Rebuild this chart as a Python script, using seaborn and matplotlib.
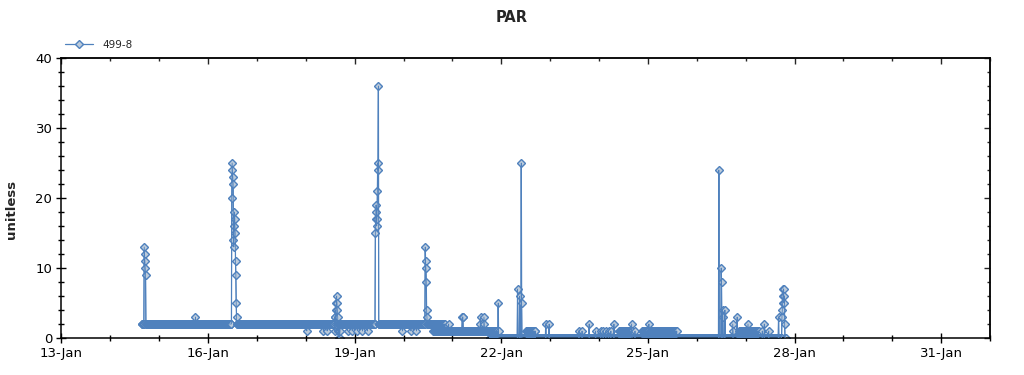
import numpy as np
import pandas as pd
import matplotlib
matplotlib.use("Agg")
import matplotlib.pyplot as plt
import matplotlib.dates as mdates
from matplotlib.ticker import MultipleLocator, NullFormatter
import seaborn as sns

# readings are logged every 10 minutes; hours counted from 13-Jan 00:00
t0 = pd.Timestamp("2014-01-13")
step_min = 10
start_h = 39.5
end_h = 355.6

# baseline runs: start hour and the level(s) the logger sits on
run_start_h = [39.5, 182.2, 188.5, 210.1, 214.0, 228.3, 232.7, 273.8, 280.3, 285.1, 302.4, 332.6, 342.4]
run_levels = [(2,), (2, 1), (1,), (1, 0), (0,), (1, 0), (0,), (1, 0), (0,), (1, 0), (0,), (1, 0), (0,)]

# excursions off the baseline: start hour and consecutive readings
event_h = [40.6, 65.8, 83.6, 120.5, 128.7, 130.5, 134.1, 140.5, 142.9, 145.4,
           147.9, 150.3, 154.2, 167.5, 171.7, 174.3, 178.6, 190.1, 196.8, 205.7,
           207.5, 214.5, 224.0, 225.0, 225.9, 237.9, 239.5, 254.2, 255.7, 259.1,
           262.4, 264.9, 266.0, 267.3, 268.6, 269.9, 271.4, 280.0, 281.7, 288.5,
           322.8, 324.0, 324.7, 325.8, 329.7, 331.8, 337.2, 344.1, 345.2, 347.3,
           352.2, 353.8]
event_vals = [[13, 12, 11, 10, 9], [3],
              [20, 25, 24, 23, 22, 14, 13, 16, 18, 17, 15, 11, 9, 5, 3],
              [1], [1], [1],
              [3, 1, 3, 4, 2, 5, 6, 5, 4, 3, 2, 1, 0, 1, 2, 0, 1],
              [1], [1], [1], [1], [1],
              [15, 17, 19, 18, 16, 17, 21, 25, 24, 36],
              [1], [1], [1],
              [13, 11, 10, 8, 4, 3],
              [2], [3, 3, 3], [2, 3], [3, 2], [5, 1],
              [7], [6], [25, 5], [2], [2], [1], [1], [2],
              [1], [1], [1], [1], [1], [1], [2], [2], [1], [2],
              [24], [10, 8], [4, 3], [4], [2, 1], [3], [2], [1], [2], [1],
              [3], [3, 4, 5, 6, 7, 7, 5, 6, 2]]

series_name = "499-8"
line_color = "#4f81bd"
fill_color = "#bccbdb"

# build the logged series
n = int(round((end_h - start_h) * 60 / step_min)) + 1
hours = start_h + np.arange(n) * step_min / 60
values = np.zeros(n)
for i, (h, pat) in enumerate(zip(run_start_h, run_levels)):
    stop = run_start_h[i + 1] if i + 1 < len(run_start_h) else end_h + 1
    idx = np.where((hours >= h - 1e-9) & (hours < stop - 1e-9))[0]
    values[idx] = np.resize(pat, len(idx))
for h, vals in zip(event_h, event_vals):
    k = int(round((h - start_h) * 60 / step_min))
    values[k:k + len(vals)] = vals

df = pd.DataFrame({"time": t0 + pd.to_timedelta(hours, unit="h"), "value": values})

sns.set_style("white")
plt.rcParams["font.family"] = ["DejaVu Sans"]

fig = plt.figure(figsize=(10.24, 3.75), dpi=100)
ax = fig.add_axes([61.4 / 1024, 1 - 338 / 375, (990 - 61.4) / 1024, 280 / 375])

sns.lineplot(data=df, x="time", y="value", ax=ax, estimator=None, sort=False,
             color=line_color, linewidth=0.9, marker="D", markersize=3.7,
             markerfacecolor=fill_color, markeredgecolor=line_color,
             markeredgewidth=1.0, label=series_name)
# hairline trace over the markers so the dense runs read as a solid band
sns.lineplot(data=df, x="time", y="value", ax=ax, estimator=None, sort=False,
             color=line_color, linewidth=0.6, legend=False, zorder=3)

ax.set_xlim(t0, pd.Timestamp("2014-02-01"))
ax.set_ylim(0, 40)
ax.xaxis.set_major_locator(mdates.DayLocator(bymonthday=[13, 16, 19, 22, 25, 28, 31]))
ax.xaxis.set_minor_locator(mdates.DayLocator())
ax.xaxis.set_major_formatter(mdates.DateFormatter("%d-%b"))
ax.yaxis.set_major_locator(MultipleLocator(10))
ax.yaxis.set_minor_locator(MultipleLocator(2))

for s in ax.spines.values():
    s.set_color("black")
    s.set_linewidth(1.1)

ax.tick_params(which="major", direction="inout", length=7, width=1, colors="black",
               labelsize=9.5, pad=3)
ax.tick_params(which="minor", direction="inout", length=4, width=1, colors="black")
ax.tick_params(bottom=True, left=True, which="both")

# inward ticks on the top and right edges
top = ax.secondary_xaxis("top")
top.xaxis.set_major_locator(mdates.DayLocator(bymonthday=[13, 16, 19, 22, 25, 28, 31]))
top.xaxis.set_minor_locator(mdates.DayLocator())
top.xaxis.set_major_formatter(NullFormatter())
top.tick_params(which="major", direction="in", length=4, width=1)
top.tick_params(which="minor", direction="in", length=2, width=1)
top.spines["top"].set_linewidth(1.1)

right = ax.secondary_yaxis("right")
right.yaxis.set_major_locator(MultipleLocator(10))
right.yaxis.set_minor_locator(MultipleLocator(2))
right.yaxis.set_major_formatter(NullFormatter())
right.tick_params(which="major", direction="in", length=4, width=1)
right.tick_params(which="minor", direction="in", length=2.5, width=1)
right.spines["right"].set_linewidth(1.1)

ax.set_xlabel("")
ax.set_ylabel("unitless", fontsize=9.5, fontweight="bold")
ax.yaxis.set_label_coords(-0.047, 0.46)

fig.suptitle("PAR", x=0.5, y=1 - 18 / 375, va="center", fontsize=10.5, fontweight="bold")

handles, labels = ax.get_legend_handles_labels()
ax.legend(handles[:1], labels[:1], loc="center left", bbox_to_anchor=(65 / 1024, 1 - 45 / 375),
          bbox_transform=fig.transFigure, frameon=False, fontsize=7.5,
          handlelength=2.7, handletextpad=0.9, borderpad=0, borderaxespad=0)

fig.savefig("out.png", dpi=100)
